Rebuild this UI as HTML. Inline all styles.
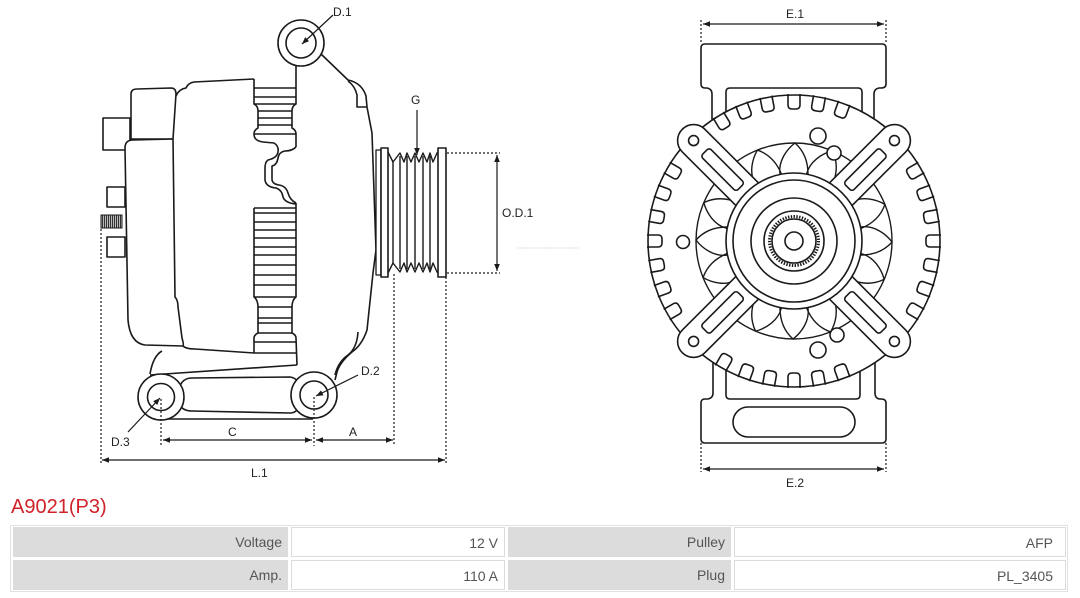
<!DOCTYPE html>
<html><head><meta charset="utf-8"><style>
html,body{margin:0;padding:0;background:#fff;}
body{width:1080px;height:598px;position:relative;overflow:hidden;font-family:"Liberation Sans",sans-serif;}
svg{position:absolute;left:0;top:0;}
.t{position:absolute;left:11px;top:495px;font-size:20px;line-height:24px;color:#d0222a;}
.c{position:absolute;height:30px;line-height:30px;font-size:14px;color:#555;text-align:right;box-sizing:border-box;padding-right:6px;}
.g{background:#dcdcdc;}
.w{background:#fff;border:1px solid #dcdcdc;}
.frame{position:absolute;left:10px;top:525px;width:1058px;height:67px;border:1px solid #e2e2e2;box-sizing:border-box;}
</style></head><body>
<svg width="1080" height="490" viewBox="0 0 1080 490" xmlns="http://www.w3.org/2000/svg">
<defs>
<marker id="a" viewBox="0 0 10 10" refX="10" refY="5" markerWidth="8" markerHeight="7" orient="auto-start-reverse" markerUnits="userSpaceOnUse"><path d="M0,1 L10,5 L0,9 Z" fill="#1a1a1a"/></marker>
<pattern id="h" width="2" height="4" patternUnits="userSpaceOnUse"><rect width="1" height="4" fill="#333"/><rect x="1" width="1" height="4" fill="#bbb"/></pattern>
<path id="n" d="M147,-6 L136,-6 Q132,-6 132,-2 L132,2 Q132,6 136,6 L147,6" fill="none"/>
<path id="b" d="M67,-14 C80,-16 92,-7 98,1 C90,10 80,14 67,14" fill="none"/>
<g id="arm"><path d="M50,-16 L142,-16 A16,16 0 0 1 142,16 L50,16 Z" fill="#fff"/><circle cx="142" cy="0" r="5" fill="#fff"/><rect x="76" y="-6" width="50" height="12" rx="3" fill="#fff"/></g>
</defs>

<!-- ================= LEFT VIEW ================= -->
<g fill="none" stroke="#1a1a1a" stroke-width="1.6" stroke-linejoin="round">
<!-- connectors -->
<rect x="103" y="118" width="27" height="32" fill="#fff"/>
<rect x="107" y="187" width="18" height="20" fill="#fff"/>
<rect x="101" y="215" width="21" height="13" fill="url(#h)" stroke-width="1"/>
<rect x="107" y="237" width="18" height="20" fill="#fff"/>
<!-- cap -->
<path d="M131,139 L131,94 Q131,89 137,89 L171,88 Q176,88 176,94 L173,139 Z" fill="#fff"/>
<path d="M125,148 Q125,140 133,140 L173,139 L175,297 Q178,300 178,307 L182,338 Q184,345 183,346 L145,345 Q130,343 128,320 Z" fill="#fff"/>
<!-- main housing outline -->
<path d="M176,96 Q179,89 186,88 Q188,83 194,82 L254,79"/>
<path d="M183,346 Q186,349 195,349 L254,353"/>
<!-- fins upper -->
<path d="M254,79 L254,104 Q258,106 258,111 L258,128 Q254,130 254,134"/>
<path d="M296,65 L296,104 Q292,106 292,111 L292,128 Q296,130 296,134 L296,147"/>
<g stroke-width="1.4">
<line x1="254" y1="88" x2="296" y2="88"/><line x1="254" y1="97" x2="296" y2="97"/><line x1="254" y1="104" x2="296" y2="104"/>
<line x1="258" y1="111" x2="292" y2="111"/><line x1="258" y1="118" x2="292" y2="118"/><line x1="258" y1="125" x2="292" y2="125"/>
<line x1="254" y1="134" x2="296" y2="134"/>
</g>
<!-- S profile -->
<path d="M254,134 Q254,141 263,142 L274,143 Q279,146 278,152 Q277,158 268,160 Q265,162 265,168 L265,180 Q266,187 276,188 Q282,190 283,197 Q285,203 296,204"/>
<path d="M296,147 Q292,151 285,151 Q279,152 278,158 Q277,165 272,166 L272,179 Q272,184 279,185 Q286,186 288,193 Q290,200 296,203"/>
<!-- fins lower -->
<path d="M254,208 L254,297 Q258,300 258,307 L258,333 Q254,335 254,338 L254,353"/>
<path d="M296,203 L296,297 Q292,300 292,307 L292,333 Q296,335 296,338 L297,365"/>
<g stroke-width="1.4">
<line x1="254" y1="208" x2="296" y2="208"/><line x1="254" y1="213" x2="296" y2="213"/><line x1="254" y1="222" x2="296" y2="222"/>
<line x1="254" y1="230" x2="296" y2="230"/><line x1="254" y1="238" x2="296" y2="238"/><line x1="254" y1="247" x2="296" y2="247"/>
<line x1="254" y1="255" x2="296" y2="255"/><line x1="254" y1="265" x2="296" y2="265"/><line x1="254" y1="275" x2="296" y2="275"/>
<line x1="254" y1="285" x2="296" y2="285"/><line x1="254" y1="297" x2="296" y2="297"/>
<line x1="258" y1="307" x2="292" y2="307"/><line x1="258" y1="318" x2="292" y2="318"/><line x1="258" y1="323" x2="292" y2="323"/><line x1="258" y1="333" x2="292" y2="333"/>
<line x1="254" y1="342" x2="296" y2="342"/><line x1="254" y1="353" x2="296" y2="353"/>
</g>
<!-- drive end housing -->
<path d="M321,54 L348,80 Q362,83 366,96 L367,107 L372,133 L376,250 L373,273 L367,330 Q362,345 352,352 Q340,362 337,372 L335,380"/>
<path d="M348,81 Q355,86 357,95 L357,107 L367,107"/>
<path d="M358,332 Q357,348 348,355 Q338,362 335,375"/>
<circle cx="301" cy="43" r="23" fill="#fff"/>
<circle cx="301" cy="43" r="15"/>
<!-- hub plate -->
<rect x="376" y="150" width="5" height="125" fill="#fff" stroke-width="1.3"/>
<!-- lower arm -->
<path d="M162,351 Q153,356 150,374"/>
<path d="M150,375 L297,365"/>
<!-- link -->
<path d="M180,386 Q183,378 192,378 L290,377 Q297,378 300,385 L300,405 Q297,413 290,413 L192,411 Q183,411 180,405 Z" fill="#fff"/>
<line x1="165" y1="419" x2="313" y2="419"/>
<circle cx="161" cy="397" r="23" fill="#fff"/>
<circle cx="161" cy="397" r="13.5"/>
<circle cx="314" cy="395" r="23" fill="#fff"/>
<circle cx="314" cy="395" r="14"/>
<!-- pulley -->
<rect x="381" y="148" width="7" height="129" fill="#fff"/>
<rect x="438" y="148" width="8" height="129" fill="#fff"/>
<path d="M388,152 L393,162 L400,153 L404,162 L407,153 L411,162 L415,153 L419,162 L423,153 L427,162 L430,153 L433,162 L437,153 L438,152" stroke-width="1.4"/>
<path d="M388,273 L393,263 L400,272 L404,263 L407,272 L411,263 L415,272 L419,263 L423,272 L427,263 L430,272 L433,263 L437,272 L438,273" stroke-width="1.4"/>
<g stroke-width="1.4">
<line x1="393" y1="162" x2="393" y2="263"/><line x1="400" y1="156" x2="400" y2="269"/><line x1="407" y1="156" x2="407" y2="269"/>
<line x1="415" y1="156" x2="415" y2="269"/><line x1="423" y1="156" x2="423" y2="269"/><line x1="430" y1="156" x2="430" y2="269"/>
</g>
</g>

<!-- dimensions left -->
<g fill="none" stroke="#1a1a1a" stroke-width="1.2">
<g stroke-dasharray="2,2">
<line x1="101" y1="229" x2="101" y2="463"/>
<line x1="161" y1="399" x2="161" y2="445"/>
<line x1="314" y1="397" x2="314" y2="446"/>
<line x1="394" y1="274" x2="394" y2="446"/>
<line x1="446" y1="277" x2="446" y2="463"/>
<line x1="447" y1="153" x2="500" y2="153"/>
<line x1="447" y1="273" x2="500" y2="273"/>
</g>
<line x1="517" y1="248" x2="580" y2="248" stroke="#ddd" stroke-width="1" stroke-dasharray="2,1"/>
<line x1="163" y1="440" x2="312" y2="440" marker-start="url(#a)" marker-end="url(#a)"/>
<line x1="316" y1="440" x2="393" y2="440" marker-start="url(#a)" marker-end="url(#a)"/>
<line x1="102" y1="460" x2="445" y2="460" marker-start="url(#a)" marker-end="url(#a)"/>
<line x1="497" y1="155" x2="497" y2="271" marker-start="url(#a)" marker-end="url(#a)"/>
<line x1="417" y1="110" x2="417" y2="155" marker-end="url(#a)"/>
<line x1="333" y1="15" x2="302" y2="44" marker-end="url(#a)"/>
<line x1="358" y1="375" x2="316" y2="396" marker-end="url(#a)"/>
<line x1="128" y1="432" x2="160" y2="398" marker-end="url(#a)"/>
</g>
<g font-family="Liberation Sans, DejaVu Sans, sans-serif" font-size="12" fill="#222">
<text x="333" y="16">D.1</text>
<text x="411" y="104">G</text>
<text x="502" y="217">O.D.1</text>
<text x="361" y="375">D.2</text>
<text x="111" y="446">D.3</text>
<text x="228" y="436">C</text>
<text x="349" y="436">A</text>
<text x="251" y="477">L.1</text>
<text x="786" y="18">E.1</text>
<text x="786" y="487">E.2</text>
</g>

<!-- ================= RIGHT VIEW ================= -->
<g fill="none" stroke="#1a1a1a" stroke-width="1.6" stroke-linejoin="round">
<!-- ears -->
<path d="M701,48 Q701,44 705,44 L882,44 Q886,44 886,48 L886,84 Q886,88 881,88 L879,88 Q874,89 874,94 L874,170 L712,170 L712,94 Q712,89 707,88 L705,88 Q701,88 701,84 Z" fill="#fff"/>
<path d="M726,170 L726,92 Q726,88 730,88 L858,88 Q862,88 862,92 L862,170"/>
<path d="M701,439 Q701,443 705,443 L882,443 Q886,443 886,439 L886,403 Q886,399 881,399 L879,399 Q875,398 875,393 L875,320 L713,320 L713,393 Q713,398 708,399 L705,399 Q701,399 701,403 Z" fill="#fff"/>
<path d="M726,320 L726,395 Q726,399 730,399 L856,399 Q860,399 860,395 L860,320"/>
<rect x="733" y="407" width="122" height="30" rx="15" fill="#fff"/>
<!-- main disc -->
<circle cx="794" cy="241" r="146" fill="#fff"/>
<g transform="translate(794,241)">
<use href="#n" transform="rotate(-30)"/><use href="#n" transform="rotate(-20)"/><use href="#n" transform="rotate(-10)"/><use href="#n" transform="rotate(0)"/><use href="#n" transform="rotate(10)"/><use href="#n" transform="rotate(20)"/><use href="#n" transform="rotate(30)"/>
<use href="#n" transform="rotate(150)"/><use href="#n" transform="rotate(160)"/><use href="#n" transform="rotate(170)"/><use href="#n" transform="rotate(180)"/><use href="#n" transform="rotate(190)"/><use href="#n" transform="rotate(200)"/><use href="#n" transform="rotate(210)"/>
<use href="#n" transform="rotate(-121)"/><use href="#n" transform="rotate(-111)"/><use href="#n" transform="rotate(-101)"/><use href="#n" transform="rotate(-90)"/><use href="#n" transform="rotate(-80)"/><use href="#n" transform="rotate(-70)"/>
<use href="#n" transform="rotate(120)"/><use href="#n" transform="rotate(110)"/><use href="#n" transform="rotate(100)"/><use href="#n" transform="rotate(90)"/><use href="#n" transform="rotate(80)"/><use href="#n" transform="rotate(70)"/>
<!-- fan -->
<circle cx="0" cy="0" r="98" stroke-width="1.4"/>
<g stroke-width="1.4">
<use href="#b" transform="rotate(0)"/><use href="#b" transform="rotate(22.5)"/><use href="#b" transform="rotate(45)"/><use href="#b" transform="rotate(67.5)"/>
<use href="#b" transform="rotate(90)"/><use href="#b" transform="rotate(112.5)"/><use href="#b" transform="rotate(135)"/><use href="#b" transform="rotate(157.5)"/>
<use href="#b" transform="rotate(180)"/><use href="#b" transform="rotate(202.5)"/><use href="#b" transform="rotate(225)"/><use href="#b" transform="rotate(247.5)"/>
<use href="#b" transform="rotate(270)"/><use href="#b" transform="rotate(292.5)"/><use href="#b" transform="rotate(315)"/><use href="#b" transform="rotate(337.5)"/>
</g>
<!-- arms -->
<use href="#arm" transform="rotate(-135)"/><use href="#arm" transform="rotate(-45)"/><use href="#arm" transform="rotate(45)"/><use href="#arm" transform="rotate(135)"/>
<!-- hub -->
<circle r="68" fill="#fff"/>
<circle r="61"/>
<circle r="43"/>
<circle r="30"/>
<circle r="24.5" stroke-width="3" stroke-dasharray="1.4,1.4"/>
<circle r="22"/>
<circle r="9"/>
</g>
<!-- holes -->
<circle cx="818" cy="136" r="8" fill="#fff"/>
<circle cx="834" cy="153" r="7" fill="#fff"/>
<circle cx="683" cy="242" r="6.5" fill="#fff"/>
<circle cx="837" cy="335" r="7" fill="#fff"/>
<circle cx="818" cy="350" r="8" fill="#fff"/>
</g>
<g fill="none" stroke="#1a1a1a" stroke-width="1.2">
<g stroke-dasharray="2,2">
<line x1="701" y1="20" x2="701" y2="44"/><line x1="886" y1="20" x2="886" y2="44"/>
<line x1="701" y1="443" x2="701" y2="472"/><line x1="886" y1="443" x2="886" y2="472"/>
</g>
<line x1="703" y1="24" x2="884" y2="24" marker-start="url(#a)" marker-end="url(#a)"/>
<line x1="703" y1="469" x2="884" y2="469" marker-start="url(#a)" marker-end="url(#a)"/>
</g>
</svg>

<div class="t">A9021(P3)</div>
<div class="frame"></div>
<div class="c g" style="left:13px;top:527px;width:275px;">Voltage</div>
<div class="c w" style="left:291px;top:527px;width:214px;">12 V</div>
<div class="c g" style="left:508px;top:527px;width:223px;">Pulley</div>
<div class="c w" style="left:734px;top:527px;width:332px;padding-right:12px;">AFP</div>
<div class="c g" style="left:13px;top:560px;width:275px;">Amp.</div>
<div class="c w" style="left:291px;top:560px;width:214px;">110 A</div>
<div class="c g" style="left:508px;top:560px;width:223px;">Plug</div>
<div class="c w" style="left:734px;top:560px;width:332px;padding-right:12px;">PL_3405</div>
</body></html>
